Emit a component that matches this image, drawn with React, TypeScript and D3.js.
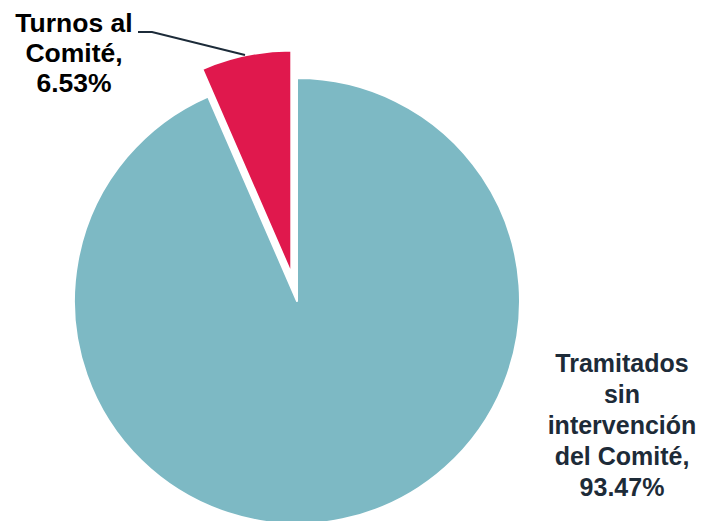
import { useEffect, useRef } from "react";
import * as d3 from "d3";

const categories = ["Tramitados sin intervención del Comité", "Turnos al Comité"];
const values = [93.47, 6.53];
const labelLines = [
  ["Tramitados", "sin", "intervención", "del Comité,", "93.47%"],
  ["Turnos al", "Comité,", "6.53%"],
];
const colors = ["#7db9c4", "#e0184d"];

const App = () => {
  const ref = useRef<SVGSVGElement>(null);

  useEffect(() => {
    const width = 703;
    const height = 521;
    const cx = 297;
    const cy = 301;
    const radius = 223;
    const explode = 28;

    const data = categories.map((name, i) => ({ name, value: values[i], lines: labelLines[i] }));

    const svg = d3.select(ref.current);
    svg.selectAll("*").remove();
    svg.attr("width", width).attr("height", height);

    const pie = d3.pie<any>().sort(null).value((d) => d.value);
    const arc = d3.arc<any>().innerRadius(0).outerRadius(radius);
    const arcs = pie(data);

    const g = svg.append("g").attr("transform", `translate(${cx},${cy})`);

    g.selectAll("path")
      .data(arcs)
      .join("path")
      .attr("fill", (d, i) => colors[i])
      .attr("stroke", "#fff")
      .attr("stroke-width", 2)
      .attr("stroke-linejoin", "round")
      .attr("transform", (d) => {
        if (d.index !== 1) return null;
        const mid = (d.startAngle + d.endAngle) / 2;
        return `translate(${Math.sin(mid) * explode},${-Math.cos(mid) * explode})`;
      })
      .attr("d", arc);

    // leader line for the small slice
    svg.append("path")
      .attr("d", "M138,32 L152,32 L245,55")
      .attr("fill", "none")
      .attr("stroke", "#1c2b39")
      .attr("stroke-width", 2);

    const labelPos = [
      { x: 622, y: 372, dy: 31, size: 25, fill: "#1d2b38" },
      { x: 74, y: 32, dy: 30, size: 26.5, fill: "#000" },
    ];

    svg.append("g")
      .attr("font-family", "Liberation Sans, Arial, sans-serif")
      .attr("font-weight", "bold")
      .attr("text-anchor", "middle")
      .selectAll("text")
      .data(data)
      .join("text")
      .attr("font-size", (d, i) => labelPos[i].size)
      .attr("fill", (d, i) => labelPos[i].fill)
      .each(function (d, i) {
        const t = d3.select(this);
        d.lines.forEach((line, j) => {
          t.append("tspan")
            .attr("x", labelPos[i].x)
            .attr("y", labelPos[i].y + j * labelPos[i].dy)
            .text(line);
        });
      });
  }, []);

  return (
    <svg ref={ref} style={{ position: "absolute", left: 0, top: 0, background: "#fff" }}></svg>
  );
};

export default App;
